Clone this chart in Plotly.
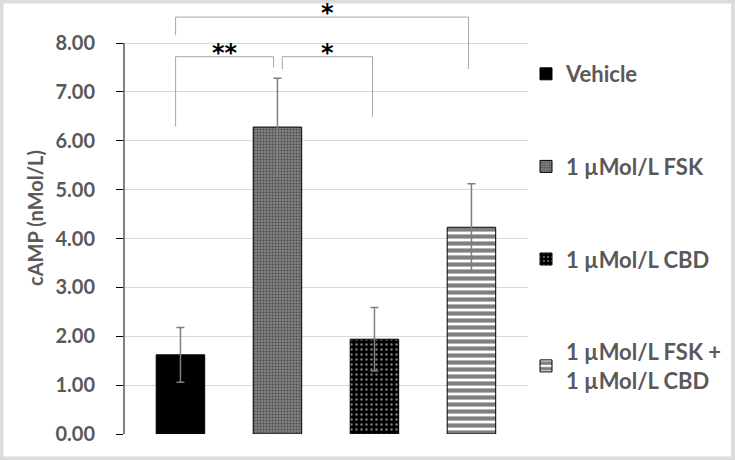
import plotly.graph_objects as go

# ---- data ----
categories = ["Vehicle", "1 µMol/L FSK", "1 µMol/L CBD", "1 µMol/L FSK +<br>1 µMol/L CBD"]
means = [1.62, 6.28, 1.94, 4.23]
errors = [0.56, 1.00, 0.65, 0.89]
y_ticks = [0, 1, 2, 3, 4, 5, 6, 7, 8]
y_ticklabels = ["0.00", "1.00", "2.00", "3.00", "4.00", "5.00", "6.00", "7.00", "8.00"]

# significance brackets: (left x, right x, bar height, left end, right end, label)
brackets = [
    (-0.05, 2.97, 8.53, 8.16, 7.47, "*"),
    (-0.05, 0.96, 7.72, 6.29, 7.50, "**"),
    (1.05, 1.98, 7.72, 7.47, 6.49, "*"),
]
label_x = [1.52, 0.455, 1.515]

# ---- styles ----
patterns = [
    dict(shape=""),
    dict(shape=".", bgcolor="#808080", fgcolor="#1a1a1a", size=3, solidity=0.35),
    dict(shape=".", bgcolor="black", fgcolor="white", size=5, solidity=0.18),
    dict(shape="-", bgcolor="white", fgcolor="black", size=7, solidity=0.6),
]
colors = ["black", "#808080", "black", "white"]
TXT = "#595959"
FONT = "Lato"

fig = go.Figure()
for i, name in enumerate(categories):
    fig.add_trace(go.Bar(
        x=[i], y=[means[i]], name=name, width=0.5,
        legendgroup=f"g{i}",
        marker=dict(color=colors[i], pattern=patterns[i],
                    line=dict(color="black", width=1)),
        error_y=dict(type="data", array=[errors[i]], color="#7f7f7f",
                     thickness=1.5, width=4),
    ))

shapes = []
for (x0, x1, yb, yl, yr, lab) in brackets:
    shapes.append(dict(type="line", xref="x", yref="y", x0=x0, x1=x0, y0=yl, y1=yb,
                       line=dict(color="#a6a6a6", width=1)))
    shapes.append(dict(type="line", xref="x", yref="y", x0=x0, x1=x1, y0=yb, y1=yb,
                       line=dict(color="#a6a6a6", width=1)))
    shapes.append(dict(type="line", xref="x", yref="y", x0=x1, x1=x1, y0=yb, y1=yr,
                       line=dict(color="#a6a6a6", width=1)))

# y axis line (only up to the top tick)
shapes.append(dict(type="line", xref="paper", yref="y", x0=0, x1=0, y0=0, y1=y_ticks[-1],
                   line=dict(color="black", width=1)))

# outer frame
shapes.append(dict(type="rect", xref="paper", yref="paper",
                   x0=(1.5 - 124) / 404, x1=(733 - 124) / 404,
                   y0=(434 - 458.5) / 432, y1=(434 - 1.5) / 432,
                   line=dict(color="#dcdcdc", width=4), fillcolor="rgba(0,0,0,0)",
                   layer="above"))

annotations = []
for (x0, x1, yb, yl, yr, lab), lx in zip(brackets, label_x):
    annotations.append(dict(x=lx, y=yb, xref="x", yref="y", text=lab, showarrow=False,
                            yanchor="bottom", yshift=-12,
                            font=dict(family="DejaVu Sans", size=24, color="black",
                                      weight="bold")))

fig.update_layout(
    width=735, height=460,
    margin=dict(l=124, r=207, t=2, b=26, autoexpand=False),
    paper_bgcolor="white", plot_bgcolor="rgba(0,0,0,0)",
    showlegend=True,
    legend=dict(x=(526 - 124) / 404, xanchor="left", y=(434 - 53) / 432, yanchor="top",
                font=dict(family=FONT, size=22, color=TXT, weight="bold"),
                tracegroupgap=61, itemwidth=30, bgcolor="rgba(0,0,0,0)"),
    xaxis=dict(range=[-0.582, 3.583], showticklabels=False, showgrid=False,
               zeroline=False, showline=False, ticks="", automargin=False),
    yaxis=dict(range=[0, 8.839], tickvals=y_ticks, ticktext=y_ticklabels,
               showgrid=True, gridcolor="#d9d9d9", gridwidth=1,
               zeroline=False, showline=False, automargin=False,
               ticks="outside", ticklen=7, tickcolor="black", tickwidth=1,
               ticklabelstandoff=17,
               tickfont=dict(family=FONT, size=20, color=TXT, weight="bold"),
               title=dict(text="cAMP (nMol/L)", standoff=6,
                          font=dict(family=FONT, size=20, color=TXT, weight="bold"))),
    shapes=shapes, annotations=annotations,
)

fig.write_html("out.html", config={"displayModeBar": False},
               post_script="document.body.style.margin='0';")
